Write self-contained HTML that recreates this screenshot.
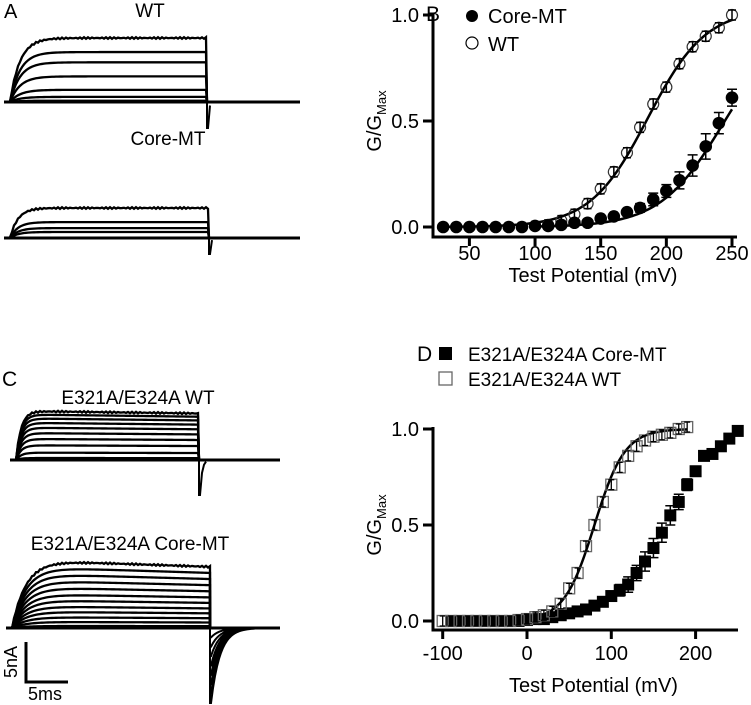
<!DOCTYPE html>
<html><head><meta charset="utf-8"><style>
html,body{margin:0;padding:0;background:#fff;}
svg{display:block;font-family:"Liberation Sans",Arial,sans-serif;}
</style></head><body>
<svg id="fig" width="751" height="705" viewBox="0 0 751 705" xmlns="http://www.w3.org/2000/svg">
<g id="left"></g>
<g id="pb"></g>
<g id="pd"></g>
</svg>
<script>
// Panel B data
const bVolt = [30,40,50,60,70,80,90,100,110,120,130,140,150,160,170,180,190,200,210,220,230,240,250];
const bCore = [0,0,0,0,0,0,0,0.005,0.005,0.01,0.02,0.02,0.04,0.05,0.07,0.09,0.13,0.17,0.22,0.29,0.38,0.49,0.61];
const bCoreErr = [0,0,0,0,0,0,0,0,0,0,0,0,0,0,0.01,0.02,0.03,0.03,0.04,0.05,0.06,0.05,0.04];
const bWtVolt = [110,120,130,140,150,160,170,180,190,200,210,220,230,240,250];
const bWt = [0.01,0.03,0.06,0.11,0.18,0.26,0.35,0.47,0.58,0.66,0.77,0.85,0.90,0.94,1.0];
const bXTicks = [50,100,150,200,250];
const bYTicks = [0,0.5,1.0];
// Panel D data
const dCoreVolt = [-90,-80,-70,-60,-50,-40,-30,-20,-10,0,10,20,30,40,50,60,70,80,90,100,110,120,130,140,150,160,170,180,190,200,210,220,230,240,250];
const dCore = [0,0,0,0,0,0,0,0,0,0.005,0.01,0.01,0.02,0.03,0.04,0.05,0.06,0.08,0.1,0.13,0.16,0.19,0.25,0.31,0.38,0.46,0.55,0.62,0.71,0.78,0.86,0.87,0.91,0.95,0.99];
const dCoreErr = [0,0,0,0,0,0,0,0,0,0,0,0,0,0,0,0,0,0.01,0.01,0.02,0.03,0.04,0.04,0.05,0.05,0.05,0.05,0.04,0.03,0.02,0,0,0,0,0];
const dWtVolt = [-100,-90,-80,-70,-60,-50,-40,-30,-20,-10,0,10,20,30,40,50,60,70,80,90,100,110,120,130,140,150,160,170,180,190];
const dWt = [0,0,0,0,0,0,0,0,0,0.005,0.01,0.02,0.03,0.05,0.09,0.17,0.25,0.39,0.50,0.62,0.71,0.80,0.86,0.91,0.94,0.96,0.97,0.98,1.0,1.01];
const dXTicks = [-100,0,100,200];
const dYTicks = [0,0.5,1.0];
// Trace amplitudes (fraction of top)
const aWt = [1,0.78,0.62,0.40,0.19,0.08,0.02];
const aCore = [1,0.53,0.33,0.2];
const cWt = [1,0.93,0.85,0.76,0.66,0.55,0.43,0.30,0.15,0.04];
const cCore = [1,0.9,0.8,0.7,0.6,0.5,0.41,0.32,0.24,0.16,0.09,0.03];

const NS="http://www.w3.org/2000/svg";
function mk(parent,tag,attrs,text){const e=document.createElementNS(NS,tag);for(const k in attrs)e.setAttribute(k,attrs[k]);if(text!==undefined)e.textContent=text;parent.appendChild(e);return e;}
const boltz=(v,h,k)=>1/(1+Math.exp((h-v)/k));

function chart(g,opt){
  const sx=v=>opt.x0+(v-opt.v0)*opt.kx, sy=y=>opt.y0-(y)*opt.ky;
  let ax=mk(g,'path',{d:`M${opt.axX},${sy(1)-2} L${opt.axX},${opt.axY} L${opt.xEnd},${opt.axY}`,fill:'none',stroke:'#000','stroke-width':3});
   
  opt.xt.forEach(t=>{const l=mk(g,'line',{x1:sx(t),x2:sx(t),y1:opt.axY,y2:opt.axY+9,stroke:'#000','stroke-width':3});
     
    const tx=mk(g,'text',{x:sx(t),y:opt.axY+opt.lab,'font-size':20,'text-anchor':'middle'},String(t));
     });
  opt.yt.forEach(t=>{const l=mk(g,'line',{x1:opt.axX-10,x2:opt.axX,y1:sy(t),y2:sy(t),stroke:'#000','stroke-width':3});
     
    const tx=mk(g,'text',{x:opt.axX-14,y:sy(t)+7,'font-size':20,'text-anchor':'end'},t.toFixed(1));
     });
  const xt=mk(g,'text',{x:(opt.axX+opt.xEnd)/2+8,y:opt.axY+opt.tit,'font-size':20,'text-anchor':'middle'},'Test Potential (mV)');
   
  const yt=mk(g,'text',{transform:`translate(${opt.axX-52},${sy(0.5)}) rotate(-90)`,'font-size':20,'text-anchor':'middle'});
   
  mk(yt,'tspan',{},'G/G'); mk(yt,'tspan',{'font-size':13,dy:5},'Max');
  return {sx,sy};
}

// Panel B
(function(){
  const g=document.getElementById('pb');
  const {sx,sy}=chart(g,{x0:469.4,v0:50,kx:1.313,y0:227,ky:212,axX:433,axY:237,xEnd:737,xt:bXTicks,yt:bYTicks,lab:23,tit:45});
  let d='';for(let v=30;v<=250;v+=2)d+=(d?'L':'M')+sx(v)+','+sy(boltz(v,186,22)*1.03);
  let c=mk(g,'path',{d,fill:'none',stroke:'#000','stroke-width':2.5});
  d='';for(let v=100;v<=250;v+=2)d+=(d?'L':'M')+sx(v)+','+sy(boltz(v,243,24)*0.97);
  c=mk(g,'path',{d,fill:'none',stroke:'#000','stroke-width':2.5});
  bWtVolt.forEach((v,i)=>{const p=mk(g,'circle',{cx:sx(v),cy:sy(bWt[i]),r:5.5,fill:'none',stroke:'#333','stroke-width':1.2});
    
    const e=mk(g,'path',{d:`M${sx(v)-4},${sy(bWt[i])-5}h8M${sx(v)},${sy(bWt[i])-5}v10M${sx(v)-4},${sy(bWt[i])+5}h8`,stroke:'#000','stroke-width':1.5,fill:'none'});
    });
  bVolt.forEach((v,i)=>{const y=sy(bCore[i]),er=bCoreErr[i]*212;
    if(er>0){const e=mk(g,'path',{d:`M${sx(v)-5},${y-er}h10M${sx(v)},${y-er}V${y+er}M${sx(v)-5},${y+er}h10`,stroke:'#000','stroke-width':1.5,fill:'none'});
      }
    const p=mk(g,'circle',{cx:sx(v),cy:y,r:6.3,fill:'#000'});});
  const L=mk(g,'g',{});
  let t=mk(L,'circle',{cx:472,cy:16,r:6,fill:'#000'});
  t=mk(L,'text',{x:488,y:23,'font-size':20},'Core-MT');
  t=mk(L,'circle',{cx:472,cy:43,r:6,fill:'none',stroke:'#000','stroke-width':1.2});
  t=mk(L,'text',{x:488,y:51,'font-size':20},'WT');
  t=mk(g,'text',{x:426,y:21,'font-size':21},'B');
})();

// Panel D
(function(){
  const g=document.getElementById('pd');
  const {sx,sy}=chart(g,{x0:527,v0:0,kx:0.843,y0:621,ky:192,axX:433,axY:630,xEnd:738,xt:dXTicks,yt:dYTicks,lab:30,tit:62});
  let d='';for(let v=-90;v<=190;v+=2)d+=(d?'L':'M')+sx(v)+','+sy(boltz(v,80,18)*1.0);
  let c=mk(g,'path',{d,fill:'none',stroke:'#000','stroke-width':2.5});
  dCoreVolt.forEach((v,i)=>{const y=sy(dCore[i]),er=dCoreErr[i]*192;
    if(er>0){const e=mk(g,'path',{d:`M${sx(v)-5},${y-er}h10M${sx(v)},${y-er}V${y+er}M${sx(v)-5},${y+er}h10`,stroke:'#000','stroke-width':1.5,fill:'none'});
      }
    const p=mk(g,'rect',{x:sx(v)-6,y:y-6,width:12,height:12,fill:'#000'});});
  dWtVolt.forEach((v,i)=>{const y=sy(dWt[i]);
    const p=mk(g,'rect',{x:sx(v)-5.5,y:y-5.5,width:11,height:11,fill:'none',stroke:'#666','stroke-width':1.3});
    
    const e=mk(g,'path',{d:`M${sx(v)-3},${y-5}h6M${sx(v)},${y-5}v10M${sx(v)-3},${y+5}h6`,stroke:'#000','stroke-width':1.3,fill:'none'});
    });
  const L=mk(g,'g',{});
  let t=mk(L,'rect',{x:439,y:347,width:13,height:13,fill:'#000'});
  t=mk(L,'text',{x:468,y:361,'font-size':19},'E321A/E324A Core-MT');
  t=mk(L,'rect',{x:439,y:372,width:13,height:13,fill:'none',stroke:'#666','stroke-width':1.3});
  t=mk(L,'text',{x:468,y:386,'font-size':19},'E321A/E324A WT');
  t=mk(g,'text',{x:417,y:361,'font-size':21},'D');
})();

// Left traces
(function(){
  const g=document.getElementById('left');
  function set(o){
    const grp=mk(g,'g',{});
    o.amps.forEach((a,i)=>{let d=`M${o.x0},${o.base}`;
      for(let x=o.x0;x<=o.x1;x+=2){const t=(x-o.x0)/o.tau;const n=(i===0?Math.sin(x*1.7)*0.8:0);d+=`L${x},${o.base-(o.top)*a*(1-Math.exp(-t))*(1-o.droop*(x-o.x0)/(o.x1-o.x0))+n}`;}
      d+=`L${o.x1},${o.base}`;
      const p=mk(grp,'path',{d,fill:'none',stroke:'#000','stroke-width':2.3});});
    let b=mk(grp,'path',{d:`M${o.x0-6},${o.base}L${o.xEnd},${o.base}`,stroke:'#000','stroke-width':3});
    let tail='';for(let k=0;k<o.tails;k++){const depth=o.spike*(1-k/o.tails);tail+=`M${o.x1},${o.base}L${o.x1},${o.base+depth}`;
      for(let x=o.x1;x<=o.x1+o.tailLen;x+=2){tail+=`L${x+1},${o.base+depth*Math.exp(-(x-o.x1)/o.tailTau)}`;}}
    b=mk(grp,'path',{d:tail,fill:'none',stroke:'#000','stroke-width':2});
  }
  set({name:'wt-traces',amps:aWt,x0:10,x1:207,xEnd:300,base:102,top:64,tau:10,droop:0,spike:26,tails:1,tailLen:3,tailTau:1});
  set({name:'core-mt-traces',amps:aCore,x0:10,x1:209,xEnd:300,base:238,top:30,tau:8,droop:0,spike:16,tails:1,tailLen:3,tailTau:1});
  set({name:'e321a-wt-traces',amps:cWt,x0:16,x1:199,xEnd:280,base:460,top:49,tau:5,droop:0.05,spike:35,tails:1,tailLen:6,tailTau:2});
  set({name:'e321a-core-mt-traces',amps:cCore,x0:12,x1:210,xEnd:280,base:628,top:68,tau:14,droop:0.1,spike:75,tails:8,tailLen:60,tailTau:9});
  const lab=[[4,18,'A','panel-label-a',20,'start'],[150,17,'WT','wt-title',19,'middle'],[168,145,'Core-MT','core-mt-title',19,'middle'],
   [2,386,'C','panel-label-c',21,'start'],[138,404,'E321A/E324A WT','e321a-wt-title',19,'middle'],[130,550,'E321A/E324A Core-MT','e321a-core-mt-title',19,'middle'],
   [28,700,'5ms','time-scale-label',18,'start']];
  lab.forEach(l=>{const t=mk(g,'text',{x:l[0],y:l[1],'font-size':l[4],'text-anchor':l[5]},l[2]);});
  let t=mk(g,'text',{transform:'translate(17,662) rotate(-90)','font-size':18,'text-anchor':'middle'},'5nA');
  t=mk(g,'path',{d:'M26,642V682H68',fill:'none',stroke:'#000','stroke-width':3});
})();
</script>
</body></html>
